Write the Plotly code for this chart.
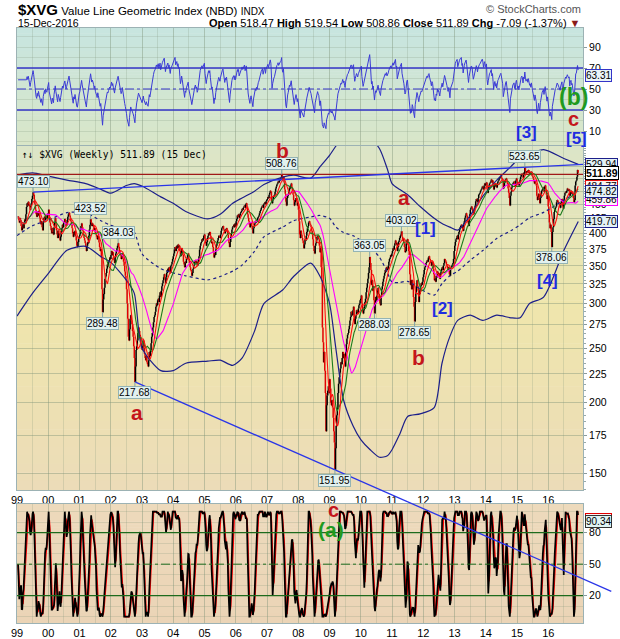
import numpy as np
import pandas as pd
import plotly.graph_objects as go

# ---------------- data (weekly closes) ----------------
close_1999 = [428, 422, 418, 425, 420, 412, 405, 410, 415, 408, 418, 423, 420, 432, 445, 452, 448,
              455, 450, 446, 440, 447, 452, 460, 466, 473.10, 468, 459, 450, 440, 432, 428, 436, 430,
              438, 432, 426, 418, 415, 420, 410, 405, 418, 425, 428, 422, 430, 426, 424, 430, 434, 440]
close_2000 = [425, 418, 412, 405, 400, 408, 402, 398, 410, 418, 425, 415, 405, 398, 392, 404, 400,
              396, 388, 394, 402, 408, 414, 410, 418, 420, 424, 418, 412, 416, 422, 428, 432, 435,
              430, 426, 420, 415, 408, 400, 394, 402, 398, 404, 395, 388, 380, 378, 386, 392, 395, 398]
close_2001 = [405, 412, 416, 410, 404, 398, 392, 388, 384, 378, 372, 380, 386, 384, 396, 406, 414,
              423.52, 418, 412, 416, 414, 410, 404, 408, 400, 398, 394, 390, 396, 392, 385, 378, 372,
              375, 362, 318, 289.48, 305, 312, 320, 332, 335, 340, 346, 352, 350, 355, 358, 362, 360, 366]
close_2002 = [372, 366, 370, 364, 358, 354, 362, 368, 372, 376, 380, 384.03, 378, 372, 368, 365, 360,
              362, 368, 360, 356, 350, 342, 336, 330, 318, 300, 282, 262, 258, 270, 282, 286, 280,
              276, 268, 262, 252, 240, 217.68, 232, 248, 252, 258, 266, 272, 268, 264, 262, 255, 250, 248]
close_2003 = [252, 258, 250, 244, 240, 238, 242, 236, 234, 232, 238, 246, 242, 248, 255, 262, 266,
              272, 278, 284, 286, 290, 296, 300, 298, 304, 306, 302, 310, 314, 308, 316, 322, 326,
              330, 334, 338, 332, 326, 334, 340, 344, 346, 342, 348, 344, 340, 350, 352, 356, 360, 364]
close_2004 = [368, 374, 378, 372, 376, 380, 376, 382, 378, 380, 372, 364, 368, 376, 372, 366, 356,
              352, 348, 356, 354, 360, 362, 366, 368, 360, 354, 348, 344, 342, 336, 340, 346, 350,
              352, 356, 358, 354, 356, 350, 352, 360, 364, 374, 380, 384, 386, 390, 388, 392, 396, 398]
close_2005 = [390, 384, 380, 386, 392, 396, 400, 398, 402, 396, 390, 384, 386, 378, 370, 362, 368,
              366, 374, 380, 384, 388, 392, 396, 394, 392, 398, 404, 408, 410, 412, 406, 404, 400,
              406, 404, 408, 402, 398, 392, 384, 378, 386, 394, 400, 406, 410, 412, 414, 410, 416, 412]
close_2006 = [420, 424, 430, 428, 432, 426, 430, 434, 436, 438, 442, 440, 444, 446, 448, 444, 450,
              452, 446, 432, 426, 420, 414, 410, 416, 418, 412, 406, 400, 408, 412, 416, 420, 418,
              422, 420, 426, 428, 430, 434, 438, 440, 444, 446, 448, 444, 450, 452, 454, 450, 456, 458]
close_2007 = [460, 464, 462, 468, 472, 476, 474, 456, 452, 458, 464, 466, 468, 474, 480, 484, 488,
              490, 494, 492, 496, 496, 500, 502, 508.76, 500, 498, 504, 492, 478, 470, 455, 448, 462,
              466, 470, 476, 482, 480, 486, 490, 482, 476, 468, 458, 448, 454, 458, 462, 456, 448, 452]
close_2008 = [440, 420, 398, 392, 404, 398, 392, 388, 384, 376, 382, 390, 388, 396, 402, 408, 412,
              418, 420, 416, 414, 410, 404, 398, 390, 380, 372, 368, 380, 384, 388, 394, 396, 392,
              390, 380, 370, 376, 348, 330, 272, 256, 236, 246, 228, 208, 178, 198, 206, 210, 214, 208]
close_2009 = [220, 212, 200, 198, 202, 196, 188, 178, 170, 151.95, 166, 182, 190, 196, 208, 216, 222,
              226, 230, 236, 234, 240, 246, 240, 244, 236, 232, 246, 254, 260, 264, 266, 270, 274,
              280, 284, 290, 288, 286, 292, 296, 284, 276, 282, 286, 292, 290, 288, 294, 298, 300, 304]
close_2010 = [306, 310, 300, 290, 288, 292, 296, 302, 306, 314, 320, 326, 332, 340, 348, 363.05, 354,
              344, 324, 330, 316, 322, 304, 288.03, 300, 308, 304, 310, 316, 320, 312, 306, 300, 298,
              310, 318, 322, 328, 332, 336, 340, 344, 342, 348, 344, 346, 350, 356, 360, 362, 366, 364]
close_2011 = [368, 372, 376, 374, 380, 384, 388, 382, 384, 372, 378, 386, 388, 392, 396, 398, 403.02,
              394, 388, 390, 384, 378, 370, 372, 384, 388, 390, 382, 372, 366, 338, 324, 330, 318,
              330, 324, 308, 296, 278.65, 302, 314, 322, 330, 322, 316, 302, 312, 318, 322, 326, 324, 328]
close_2012 = [334, 338, 344, 348, 350, 354, 356, 358, 356, 362, 364, 360, 358, 354, 350, 356, 354,
              346, 338, 330, 332, 328, 336, 334, 342, 338, 340, 334, 332, 338, 342, 346, 348, 344,
              350, 354, 360, 358, 356, 352, 350, 346, 344, 348, 338, 336, 346, 348, 350, 352, 354, 360]
close_2013 = [372, 380, 386, 390, 392, 396, 390, 398, 402, 406, 410, 412, 414, 408, 412, 404, 416,
              420, 426, 430, 434, 430, 424, 418, 412, 422, 432, 440, 444, 446, 444, 438, 432, 436,
              442, 448, 456, 460, 458, 454, 462, 468, 470, 472, 476, 478, 480, 484, 482, 478, 486, 490]
close_2014 = [486, 490, 492, 478, 472, 478, 486, 490, 492, 494, 498, 492, 496, 488, 478, 486, 490,
              484, 488, 482, 490, 494, 496, 500, 502, 504, 506, 502, 498, 496, 480, 484, 492, 496,
              498, 500, 496, 488, 480, 472, 462, 448, 466, 474, 482, 488, 490, 492, 494, 486, 484, 496, 500]
close_2015 = [494, 488, 492, 486, 490, 498, 504, 508, 510, 508, 502, 512, 510, 523.65, 516, 512, 514,
              516, 512, 518, 514, 510, 512, 508, 514, 506, 504, 500, 494, 490, 496, 490, 486, 466,
              458, 464, 470, 458, 452, 462, 470, 476, 478, 480, 482, 474, 484, 486, 478, 468, 460, 466]
close_2016 = [446, 432, 418, 408, 414, 402, 378.06, 402, 410, 424, 436, 440, 444, 446, 454, 458, 456,
              452, 450, 446, 444, 452, 456, 460, 446, 442, 458, 466, 472, 474, 472, 476, 480, 478,
              476, 478, 466, 472, 476, 470, 472, 466, 462, 454, 458, 486, 494, 496, 504, 518, 511.89]

weekly_close = (close_1999 + close_2000 + close_2001 + close_2002 + close_2003 + close_2004 +
                close_2005 + close_2006 + close_2007 + close_2008 + close_2009 + close_2010 +
                close_2011 + close_2012 + close_2013 + close_2014 + close_2015 + close_2016)
last_bar_date = "2016-12-15"

# labelled swing highs / lows
swing_values = [473.10, 423.52, 384.03, 289.48, 217.68, 508.76, 151.95, 363.05, 288.03,
                403.02, 278.65, 523.65, 378.06]
swing_is_high = [True, True, True, False, False, True, False, True, False, True, False, True, False]

# Bollinger band envelope (decimal years)
band_years = [1999.0, 1999.5, 2000.0, 2000.6, 2001.2, 2001.7, 2002.0, 2002.5, 2002.75, 2003.0,
              2003.6, 2004.0, 2004.4, 2005.1, 2005.5, 2005.9, 2006.2, 2006.6, 2006.9, 2007.5,
              2007.85, 2008.4, 2008.7, 2009.0, 2009.2, 2009.45, 2009.75, 2010.0, 2010.3, 2010.6,
              2010.85, 2011.0, 2011.25, 2011.5, 2011.9, 2012.35, 2012.6, 2012.85, 2013.1, 2013.5,
              2013.9, 2014.35, 2014.8, 2015.1, 2015.4, 2015.85, 2016.5, 2016.96]
band_upper = [507, 512, 505, 497, 490, 478, 471, 486, 490, 485,
              464, 452, 437, 424, 432, 452, 462, 475, 488, 503,
              507, 501, 525, 550, 571, 600, 610, 605, 590, 565,
              520, 490, 478, 468, 446, 425, 416, 410, 405, 430,
              465, 497, 525, 545, 552, 563, 543, 529.94]
band_lower = [285, 313, 339, 373, 379, 363, 355, 330, 313, 250,
              228, 228, 235, 237, 238, 233, 240, 268, 300, 317,
              335, 354, 335, 300, 250, 202, 182, 172, 165, 160,
              161, 165, 176, 189, 191, 196, 235, 262, 280, 286,
              280, 286, 283, 283, 300, 308, 373, 419.70]

# quote header
quote_names = ["Open", "High", "Low", "Close", "Chg"]
quote_values = ["518.47", "519.54", "508.86", "511.89", "-7.09 (-1.37%)"]

# last-value tags on the right edge
price_tag_values = [529.94, 484.77, 459.86, 474.82, 419.70, 511.89]
rsi_last = 63.31
stoch_last = 90.34
stoch_d_last = 93.0

# ---------------- derived series ----------------
n = len(weekly_close)
dates = pd.date_range(end=last_bar_date, periods=n, freq="7D")
s = pd.Series(weekly_close, index=dates, dtype=float)
opens = s.shift(1).fillna(s)
highs = np.maximum(opens, s)
lows = np.minimum(opens, s)

sma10 = s.rolling(10, min_periods=1).mean()
sma20 = s.rolling(20, min_periods=1).mean()
sma50 = s.rolling(50, min_periods=1).mean()

# Wilder RSI(14)
delta = s.diff().fillna(0).values
ag = np.full(n, np.nan)
al = np.full(n, np.nan)
ag[14] = np.clip(delta[1:15], 0, None).mean()
al[14] = np.clip(-delta[1:15], 0, None).mean()
for i in range(15, n):
    ag[i] = (ag[i - 1] * 13 + max(delta[i], 0)) / 14
    al[i] = (al[i - 1] * 13 + max(-delta[i], 0)) / 14
rsi = pd.Series(100 - 100 / (1 + ag / al), index=dates).bfill()

ll = s.rolling(14, min_periods=1).min()
hh = s.rolling(14, min_periods=1).max()
fastk = (100 * (s - ll) / (hh - ll).replace(0, np.nan)).fillna(50)
slowk = fastk.rolling(3, min_periods=1).mean()
slowd = slowk.rolling(3, min_periods=1).mean()


def dec_to_ts(t):
    y = int(np.floor(t))
    return pd.Timestamp(year=y, month=1, day=1) + pd.Timedelta(days=(t - y) * 365.25)


band_dates = [dec_to_ts(t) for t in band_years]
band_mid = [(u + l) / 2 for u, l in zip(band_upper, band_lower)]

# ---------------- layout geometry ----------------
X0, X1 = pd.Timestamp("1999-01-01"), pd.Timestamp("2017-02-10")
LOW_DOM = [0.0, 0.2]
MAIN_DOM = [0.2235, 0.8017]
RSI_DOM = [0.8034, 1.0]
MAIN_RNG = [2.1459, 2.7569]
RSI_RNG = [-3.3, 108.1]
LOW_RNG = [-6.0, 107.3]

FONT = "Liberation Sans, Arial, sans-serif"
RED = "#c4161c"
BLUE = "#1f2de0"
GREEN = "#1f9a1f"
NAVY = "#1c1f8a"


def xpaper(ts):
    return (ts.value - X0.value) / (X1.value - X0.value)


def ypaper_main(v):
    return MAIN_DOM[0] + (np.log10(v) - MAIN_RNG[0]) / (MAIN_RNG[1] - MAIN_RNG[0]) * (MAIN_DOM[1] - MAIN_DOM[0])


def swing_date(v):
    return s.index[int(np.argmin(np.abs(s.values - v)))]


fig = go.Figure()

# Bollinger bands
for ys, dash in [(band_upper, "solid"), (band_lower, "solid"), (band_mid, "dot")]:
    fig.add_trace(go.Scatter(x=band_dates, y=ys, mode="lines",
                             line=dict(color=NAVY, width=1.2, dash=dash, shape="spline", smoothing=0.7),
                             xaxis="x", yaxis="y", hoverinfo="skip"))

# horizontal resistance at the 2007 high
fig.add_trace(go.Scatter(x=[X0, X1], y=[508.76, 508.76], mode="lines", line=dict(color="#a01818", width=1.3),
                         xaxis="x", yaxis="y", hoverinfo="skip"))

# upper trendline through 473.10 and 523.65
dA, dB = swing_date(473.10), swing_date(523.65)
slope = (np.log10(523.65) - np.log10(473.10)) / (dB.value - dA.value)
y_end = 10 ** (np.log10(473.10) + slope * (X1.value - dA.value))
fig.add_trace(go.Scatter(x=[dA, X1], y=[473.10, y_end], mode="lines", line=dict(color="#2a35e8", width=1.4),
                         xaxis="x", yaxis="y", hoverinfo="skip"))

# weekly bars
fig.add_trace(go.Ohlc(x=dates, open=opens, high=highs, low=lows, close=s,
                      increasing=dict(line=dict(color="#000000", width=1.5)),
                      decreasing=dict(line=dict(color="#e00000", width=1.5)),
                      tickwidth=0.4, xaxis="x", yaxis="y", hoverinfo="skip"))

# moving averages
fig.add_trace(go.Scatter(x=dates, y=sma50, mode="lines", line=dict(color="#ff00ff", width=1.1), xaxis="x", yaxis="y", hoverinfo="skip"))
fig.add_trace(go.Scatter(x=dates, y=sma20, mode="lines", line=dict(color="#1a7a1a", width=1.1), xaxis="x", yaxis="y", hoverinfo="skip"))
fig.add_trace(go.Scatter(x=dates, y=sma10, mode="lines", line=dict(color="#ff1010", width=1.1), xaxis="x", yaxis="y", hoverinfo="skip"))

# RSI
fig.add_trace(go.Scatter(x=dates, y=rsi, mode="lines", line=dict(color="#3b3bd6", width=1), xaxis="x2", yaxis="y2", hoverinfo="skip"))

# stochastics
fig.add_trace(go.Scatter(x=dates, y=slowd, mode="lines", line=dict(color="#ff0000", width=1.6), xaxis="x3", yaxis="y3", hoverinfo="skip"))
fig.add_trace(go.Scatter(x=dates, y=slowk, mode="lines", line=dict(color="#000000", width=1.7), xaxis="x3", yaxis="y3", hoverinfo="skip"))

# ---------------- background gradients ----------------
shapes = []


def lerp(c0, c1, f):
    return tuple(int(round(a + (b - a) * f)) for a, b in zip(c0, c1))


def gradient(dom, stops, nsteps=40):
    for i in range(nsteps):
        f = (i + 0.5) / nsteps
        for j in range(len(stops) - 1):
            if stops[j][0] <= f <= stops[j + 1][0]:
                g = (f - stops[j][0]) / (stops[j + 1][0] - stops[j][0])
                c = lerp(stops[j][1], stops[j + 1][1], g)
                break
        y1 = dom[1] - i / nsteps * (dom[1] - dom[0])
        y0 = dom[1] - (i + 1) / nsteps * (dom[1] - dom[0])
        shapes.append(dict(type="rect", xref="paper", yref="paper", x0=0, x1=1, y0=y0, y1=y1 + 0.001,
                           fillcolor="rgb(%d,%d,%d)" % c, line=dict(width=0), layer="below"))


gradient(RSI_DOM, [(0, (199, 229, 224)), (1, (217, 230, 200))])
gradient(MAIN_DOM, [(0, (219, 229, 200)), (0.45, (239, 230, 172)), (1, (236, 220, 184))])
gradient(LOW_DOM, [(0, (237, 218, 188)), (1, (235, 212, 182))])

# RSI reference lines
for v, d in [(70, "solid"), (30, "solid"), (50, "dashdot")]:
    shapes.append(dict(type="line", xref="paper", yref="y2", x0=0, x1=1, y0=v, y1=v,
                       line=dict(color="#3434c8", width=1.3 if d == "solid" else 1, dash=d)))
# stochastic reference lines
for v, d in [(80, "solid"), (20, "solid"), (50, "dashdot")]:
    shapes.append(dict(type="line", xref="paper", yref="y3", x0=0, x1=1, y0=v, y1=v,
                       line=dict(color="#1d6b1d", width=1.3 if d == "solid" else 1, dash=d)))

# lower trendline through 217.68 and 151.95, extended across panels
dC, dD = swing_date(217.68), swing_date(151.95)
pxC, pyC = xpaper(dC), ypaper_main(217.68)
pxD, pyD = xpaper(dD), ypaper_main(151.95)
x_ext = 1.05
y_ext = pyC + (pyD - pyC) * (x_ext - pxC) / (pxD - pxC)
shapes.append(dict(type="line", xref="paper", yref="paper", x0=pxC, y0=pyC, x1=x_ext, y1=y_ext,
                   line=dict(color="#2a35e8", width=1.3), layer="above"))

# ---------------- annotations ----------------
ann = []
# header
ann.append(dict(xref="paper", yref="paper", x=-0.002, y=1.031, xanchor="left", yanchor="middle", showarrow=False,
                text="<b><span style='font-size:15px'>$XVG</span></b> Value Line Geometric Index (NBD) <span style='font-size:10px'>INDX</span>",
                font=dict(family=FONT, size=11.5, color="#000")))
ann.append(dict(xref="paper", yref="paper", x=1.0, y=1.032, xanchor="right", yanchor="middle", showarrow=False,
                text="© StockCharts.com", font=dict(family=FONT, size=11, color="#555")))
ann.append(dict(xref="paper", yref="paper", x=-0.002, y=1.009, xanchor="left", yanchor="middle", showarrow=False,
                text="15-Dec-2016", font=dict(family=FONT, size=10.5, color="#000")))
qtext = " ".join("<b>%s</b> %s" % (k, v) for k, v in zip(quote_names, quote_values))
ann.append(dict(xref="paper", yref="paper", x=1.0, y=1.009, xanchor="right", yanchor="middle", showarrow=False,
                text=qtext + " <span style='color:#8b1a1a'>▼</span>", font=dict(family=FONT, size=11, color="#000")))
ann.append(dict(xref="paper", yref="paper", x=0.005, y=0.787, xanchor="left", yanchor="middle", showarrow=False,
                text="↑↓ $XVG (Weekly) 511.89 (15 Dec)", font=dict(family="DejaVu Sans Mono, monospace", size=9.6, color="#000")))

# swing labels
for v, hi in zip(swing_values, swing_is_high):
    ann.append(dict(x=swing_date(v), y=np.log10(v), xref="x", yref="y", text="%.2f" % v,
                    showarrow=True, arrowhead=0, arrowwidth=1, arrowcolor="#7fa3a8", ax=0, ay=-11 if hi else 11,
                    bgcolor="#e2f1ef", bordercolor="#94b4b4", borderwidth=1, borderpad=0,
                    font=dict(family=FONT, size=10, color="#000")))

# wave labels: (text, decimal year, value, axis, color, size)
wave_labels = [
    ("b", 2007.48, 560, "y", RED, 21), ("a", 2011.38, 462, "y", RED, 21), ("a", 2002.84, 192, "y", RED, 21),
    ("b", 2011.86, 241, "y", RED, 21), ("[1]", 2012.06, 407, "y", BLUE, 17), ("[2]", 2012.60, 294.5, "y", BLUE, 17),
    ("[4]", 2015.99, 330, "y", BLUE, 17),
    ("[3]", 2015.29, 9.0, "y2", BLUE, 17), ("[5]", 2016.89, 2.4, "y2", BLUE, 17), ("c", 2016.82, 21.4, "y2", RED, 20),
    ("(b)", 2016.82, 42.4, "y2", GREEN, 23),
    ("c", 2009.11, 101.6, "y3", RED, 20), ("(a)", 2009.05, 82.6, "y3", GREEN, 21),
]
for t, yr, v, ax_, col, sz in wave_labels:
    ann.append(dict(x=dec_to_ts(yr), y=np.log10(v) if ax_ == "y" else v, xref="x" if ax_ == "y" else ("x2" if ax_ == "y2" else "x3"),
                    yref=ax_, text="<b>%s</b>" % t, showarrow=False, font=dict(family=FONT, size=sz, color=col)))

# right-edge value tags (price panel)
tag_style = {529.94: (NAVY, "#e3f1f6", False), 484.77: ("#e01010", "#fbf3f0", False), 459.86: ("#ff00ff", "#fdf3fb", False),
             474.82: (NAVY, "#e3f1f6", False), 419.70: (NAVY, "#e3f1f6", False), 511.89: ("#000000", "#ffffff", True)}
for v in price_tag_values:
    bc, fc, bold = tag_style[v]
    ann.append(dict(xref="paper", yref="y", x=1.0, y=np.log10(v), xanchor="left", xshift=2, showarrow=False,
                    text=("<b>%.2f</b>" if bold else "%.2f") % v, bgcolor=fc, bordercolor=bc, borderwidth=1, borderpad=0,
                    font=dict(family=FONT, size=10.5 if bold else 10, color="#000")))
ann.append(dict(xref="paper", yref="y2", x=1.0, y=rsi_last, xanchor="left", xshift=2, showarrow=False,
                text="%.2f" % rsi_last, bgcolor="#e8f3f8", bordercolor="#3434c8", borderwidth=1, borderpad=0,
                font=dict(family=FONT, size=10, color="#000")))
ann.append(dict(xref="paper", yref="y3", x=1.0, y=stoch_d_last, xanchor="left", xshift=2, showarrow=False,
                text="%.2f" % stoch_d_last, bgcolor="#fff0f0", bordercolor="#e00000", borderwidth=1, borderpad=0,
                font=dict(family=FONT, size=10, color="#000")))
ann.append(dict(xref="paper", yref="y3", x=1.0, y=stoch_last, xanchor="left", xshift=2, showarrow=False,
                text="%.2f" % stoch_last, bgcolor="#dff3f3", bordercolor="#333", borderwidth=1, borderpad=0,
                font=dict(family=FONT, size=10, color="#000")))

# ---------------- axes ----------------
years = list(range(1999, 2017))
year_ticks = [pd.Timestamp(year=y, month=1, day=1) for y in years]
year_text = ["%02d" % (y % 100) for y in years]
mid_ticks = [pd.Timestamp(year=y, month=7, day=1) for y in years]
GRID = "rgba(125,145,120,0.42)"
GRID2 = "rgba(125,145,120,0.22)"
LINE = "#9cb2b4"

xcommon = dict(type="date", range=[X0, X1], tickmode="array", tickvals=year_ticks, ticktext=year_text,
               showgrid=True, gridcolor=GRID, gridwidth=1, showline=True, linecolor=LINE, mirror=True,
               ticks="", tickfont=dict(family=FONT, size=11, color="#000"), automargin=False,
               minor=dict(tickvals=mid_ticks, showgrid=True, gridcolor=GRID2), zeroline=False)
ycommon = dict(side="right", tickmode="array", showline=True, linecolor=LINE, mirror=True, zeroline=False,
               ticks="outside", ticklen=3, tickcolor="#8a9a9a", automargin=False,
               tickfont=dict(family=FONT, size=10.5, color="#000"))

price_ticks = list(range(150, 550, 25))
price_minor = list(range(140, 575, 5))

fig.update_layout(
    width=620, height=639, margin=dict(l=17, r=37, t=28, b=16, autoexpand=False),
    paper_bgcolor="white", plot_bgcolor="rgba(0,0,0,0)", showlegend=False,
    xaxis=dict(xcommon, domain=[0, 1], anchor="y", showticklabels=True, rangeslider=dict(visible=False)),
    xaxis2=dict(xcommon, domain=[0, 1], anchor="y2", matches="x", showticklabels=False),
    xaxis3=dict(xcommon, domain=[0, 1], anchor="y3", matches="x", showticklabels=True),
    yaxis=dict(ycommon, domain=MAIN_DOM, type="log", range=MAIN_RNG, anchor="x",
               tickvals=price_ticks, ticktext=[str(v) for v in price_ticks],
               showgrid=True, gridcolor=GRID,
               minor=dict(tickvals=price_minor, ticks="outside", ticklen=2, tickcolor="#9aa", showgrid=False)),
    yaxis2=dict(ycommon, domain=RSI_DOM, range=RSI_RNG, anchor="x2", tickvals=[10, 30, 50, 70, 90],
                showgrid=True, gridcolor=GRID2,
                minor=dict(tickvals=[0, 20, 40, 60, 80, 100], showgrid=True, gridcolor=GRID2)),
    yaxis3=dict(ycommon, domain=LOW_DOM, range=LOW_RNG, anchor="x3", tickvals=[20, 50, 80],
                showgrid=True, gridcolor=GRID2,
                minor=dict(tickvals=[0, 10, 30, 40, 60, 70, 90, 100], showgrid=True, gridcolor=GRID2)),
    shapes=shapes, annotations=ann,
)

fig.write_html("out.html", config={"displayModeBar": False},
               post_script="document.body.style.margin='0px';document.body.style.overflow='hidden';")
